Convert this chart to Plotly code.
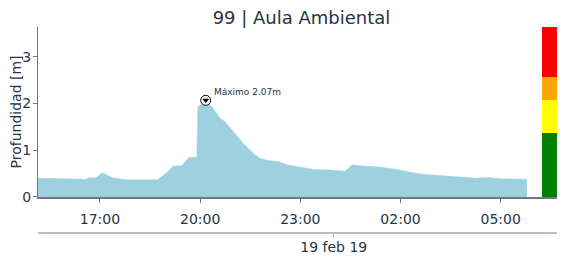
import plotly.graph_objects as go

# ---- data ----
times = ["2019-02-18 15:08", "2019-02-18 16:35", "2019-02-18 16:40", "2019-02-18 16:53",
         "2019-02-18 17:04", "2019-02-18 17:23", "2019-02-18 17:47", "2019-02-18 18:44",
         "2019-02-18 19:02", "2019-02-18 19:11", "2019-02-18 19:27", "2019-02-18 19:40",
         "2019-02-18 19:54", "2019-02-18 19:56", "2019-02-18 20:05", "2019-02-18 20:10",
         "2019-02-18 20:23", "2019-02-18 20:36", "2019-02-18 20:45", "2019-02-18 20:59",
         "2019-02-18 21:17", "2019-02-18 21:35", "2019-02-18 21:47", "2019-02-18 22:02",
         "2019-02-18 22:20", "2019-02-18 22:36", "2019-02-18 22:59", "2019-02-18 23:23",
         "2019-02-18 23:53", "2019-02-19 00:20", "2019-02-19 00:33", "2019-02-19 00:47",
         "2019-02-19 01:23", "2019-02-19 01:53", "2019-02-19 02:35", "2019-02-19 03:23",
         "2019-02-19 04:17", "2019-02-19 04:35", "2019-02-19 04:58", "2019-02-19 05:47"]
depth = [0.40, 0.38, 0.41, 0.41, 0.52, 0.41, 0.37, 0.37,
         0.54, 0.66, 0.67, 0.85, 0.85, 1.93, 2.00, 2.07,
         1.90, 1.68, 1.61, 1.40, 1.15, 0.94, 0.83, 0.78,
         0.76, 0.69, 0.64, 0.59, 0.58, 0.55, 0.69, 0.67,
         0.64, 0.59, 0.49, 0.44, 0.40, 0.42, 0.39, 0.38]

max_time = "2019-02-18 20:10"
max_value = 2.07

level_base = [0, 1.37, 2.08, 2.57]
level_height = [1.37, 0.71, 0.49, 1.07]
level_colors = ["#008000", "#ffff00", "#ffa500", "#ff0000"]

date_tick = ["2019-02-19 00:00"]
date_label = ["19 feb 19"]

x_range = ["2019-02-18 15:08:40", "2019-02-19 06:55:30"]

FONT = "DejaVu Sans"
TXT = "#263545"
AX = "#6b7a89"

fig = go.Figure()
fig.add_trace(go.Scatter(x=times, y=depth, mode="lines", fill="tozeroy",
                         line=dict(color="#9dd1df", width=0.5),
                         fillcolor="#9dd1df", showlegend=False, hoverinfo="skip"))
fig.add_trace(go.Scatter(x=[max_time], y=[max_value], mode="markers",
                         marker=dict(symbol="circle", size=10, color="white",
                                     line=dict(color="black", width=1)),
                         showlegend=False))
fig.add_trace(go.Scatter(x=[max_time], y=[max_value], mode="markers",
                         marker=dict(symbol="triangle-down", size=6, color="black"),
                         showlegend=False))
# date axis helper trace (invisible)
fig.add_trace(go.Scatter(x=date_tick, y=[None], xaxis="x2", yaxis="y",
                         mode="markers", showlegend=False))
# level color bar
for b, h, c in zip(level_base, level_height, level_colors):
    fig.add_trace(go.Bar(x=[0], y=[h], base=[b], width=1,
                         marker=dict(color=c, line=dict(width=0)),
                         xaxis="x3", yaxis="y", showlegend=False))

fig.add_annotation(x=max_time, y=max_value, text="Máximo 2.07m", showarrow=False,
                   xanchor="left", yanchor="bottom", xshift=6, yshift=1,
                   font=dict(size=9, color=TXT, family=FONT))
# y-axis title
fig.add_annotation(x=-0.0427, y=0.5874, xref="paper", yref="paper", text="Profundidad [m]",
                   textangle=-90, showarrow=False, xanchor="center", yanchor="middle",
                   font=dict(size=14, color=TXT, family=FONT))

fig.update_layout(
    width=557, height=251,
    margin=dict(l=30, r=0, t=19, b=26, autoexpand=False),
    plot_bgcolor="white", paper_bgcolor="white",
    font=dict(family=FONT, color=TXT, size=14),
    title=dict(text="99 | Aula Ambiental", x=0.5, xref="paper", y=0.962, yanchor="middle",
               font=dict(size=18, color=TXT, family=FONT)),
    barmode="overlay", bargap=0,
    xaxis=dict(type="date", range=x_range, domain=[0, 1], anchor="y", automargin=False,
               tickformat="%H:%M", dtick=3 * 3600 * 1000, tick0="2019-02-18 17:00",
               showline=True, linecolor=AX, linewidth=1.5,
               ticks="outside", ticklen=4, tickcolor=AX,
               showgrid=False, zeroline=False, ticklabelstandoff=4,
               tickfont=dict(size=14, color=TXT)),
    xaxis2=dict(type="date", range=x_range, domain=[0, 1], anchor="free", position=0,
                overlaying="x", tickvals=date_tick, ticktext=date_label, automargin=False,
                showline=True, linecolor="#b8bec4", linewidth=1.5,
                ticks="outside", ticklen=3, tickcolor="#b8bec4", ticklabelstandoff=-2,
                showgrid=False, zeroline=False, tickfont=dict(size=14, color=TXT)),
    xaxis3=dict(type="linear", domain=[0.9564, 1], range=[-0.5, 0.5], autorange=False,
                anchor="y", visible=False, showgrid=False, zeroline=False),
    yaxis=dict(range=[0, 3.64], domain=[0.1748, 1], tickvals=[0, 1, 2, 3], automargin=False,
               showline=True, linecolor=AX, linewidth=1,
               ticks="outside", ticklen=4, tickcolor=AX, ticklabelstandoff=-1,
               showgrid=False, zeroline=False,
               tickfont=dict(size=14, color=TXT)),
)

fig.write_html("out.html")
